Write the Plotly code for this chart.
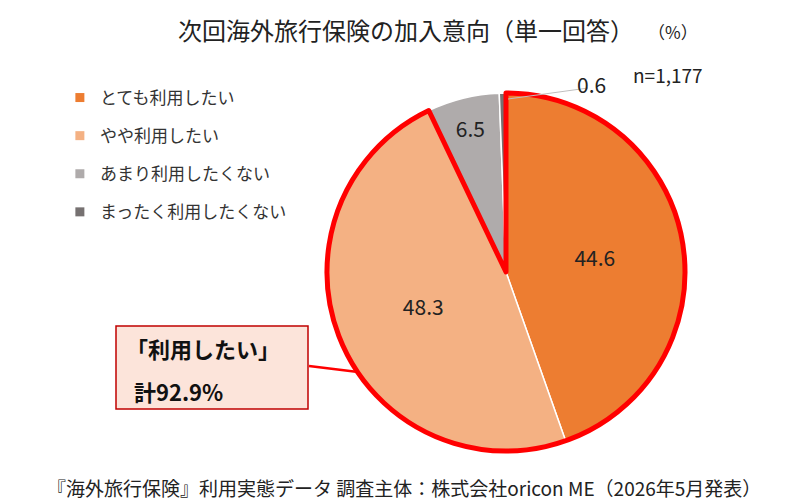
import plotly.graph_objects as go

labels = ["とても利用したい", "やや利用したい", "あまり利用したくない", "まったく利用したくない"]
values = [44.6, 48.3, 6.5, 0.6]
colors = ["#ED7D31", "#F4B183", "#AFABAB", "#767171"]
group_values = [92.9, 7.1]

FONT = "Noto Sans CJK JP"
dom_x = [319/786, 677/786]
dom_y = [1-443/502, 1-85/502]

fig = go.Figure()
fig.add_trace(go.Pie(
    labels=labels, values=values, sort=False, direction="clockwise", rotation=0,
    marker=dict(colors=colors, line=dict(color="white", width=1.5)),
    texttemplate=["%{value}", "%{value}", "%{value}", ""], textposition="inside",
    insidetextorientation="horizontal",
    textfont=dict(size=21, color="#222222", family=FONT),
    domain=dict(x=dom_x, y=dom_y), showlegend=False, hoverinfo="skip",
))
fig.add_trace(go.Pie(
    values=group_values, sort=False, direction="clockwise", rotation=0,
    marker=dict(colors=["rgba(0,0,0,0)", "rgba(0,0,0,0)"], line=dict(color=["#FF0000", "rgba(0,0,0,0)"], width=[5, 0])),
    textinfo="none", domain=dict(x=dom_x, y=dom_y), showlegend=False, hoverinfo="skip",
))
for lab, col in zip(labels, colors):
    fig.add_trace(go.Scatter(x=[None], y=[None], mode="markers", name=lab, legendgroup=lab,
                             marker=dict(symbol="square", size=9, color=col)))

fig.update_xaxes(visible=False)
fig.update_yaxes(visible=False)
fig.update_layout(
    width=786, height=502, margin=dict(l=0, r=0, t=0, b=0, pad=0),
    paper_bgcolor="white", plot_bgcolor="white",
    font=dict(family=FONT, color="#222222"),
    legend=dict(x=0.066, y=1-72/502, xanchor="left", yanchor="top",
                font=dict(size=17, family=FONT, color="#333333"),
                tracegroupgap=13, itemwidth=30),
    annotations=[
        dict(text="次回海外旅行保険の加入意向（単一回答）", x=398/786, y=1-22/502, xref="paper", yref="paper",
             yanchor="middle", showarrow=False, font=dict(size=24, family=FONT, color="#222222")),
        dict(text="（%）", x=692/786, y=1-24/502, xref="paper", yref="paper", yanchor="middle",
             showarrow=False, font=dict(size=17, family=FONT, color="#222222")),
        dict(text="n=1,177", x=697/786, y=1-66/502, xref="paper", yref="paper", yanchor="middle",
             showarrow=False, font=dict(size=19, family=FONT, color="#222222")),
        dict(text="0.6", x=600/786, y=1-76/502, xref="paper", yref="paper", yanchor="middle",
             showarrow=False, font=dict(size=21, family=FONT, color="#222222")),
        dict(text="『海外旅行保険』利用実態データ 調査主体：株式会社oricon ME（2026年5月発表）", x=396/786, y=1-479/502,
             xref="paper", yref="paper", yanchor="middle", showarrow=False,
             font=dict(size=19, family=FONT, color="#222222")),
        dict(text="<b>「利用したい」</b>", x=116/786, y=1-340/502, xref="paper", yref="paper",
             xanchor="left", yanchor="middle", showarrow=False,
             font=dict(size=22, family=FONT, color="#111111")),
        dict(text="<b>計92.9%</b>", x=124/786, y=1-383/502, xref="paper", yref="paper",
             xanchor="left", yanchor="middle", showarrow=False,
             font=dict(size=22, family=FONT, color="#111111")),
    ],
    shapes=[
        dict(type="rect", xref="paper", yref="paper", x0=108/786, y0=1-318/502, x1=300/786, y1=1-401/502,
             fillcolor="#FCE4DA", line=dict(color="#C00000", width=1.5), layer="below"),
        dict(type="line", xref="paper", yref="paper", x0=301/786, y0=1-358/502, x1=350/786, y1=1-364/502,
             line=dict(color="#FF0000", width=2.5)),
        dict(type="line", xref="paper", yref="paper", x0=500/786, y0=1-91/502, x1=580/786, y1=1-80/502,
             line=dict(color="#BFBFBF", width=1)),
    ],
)
fig.write_html("out.html")
